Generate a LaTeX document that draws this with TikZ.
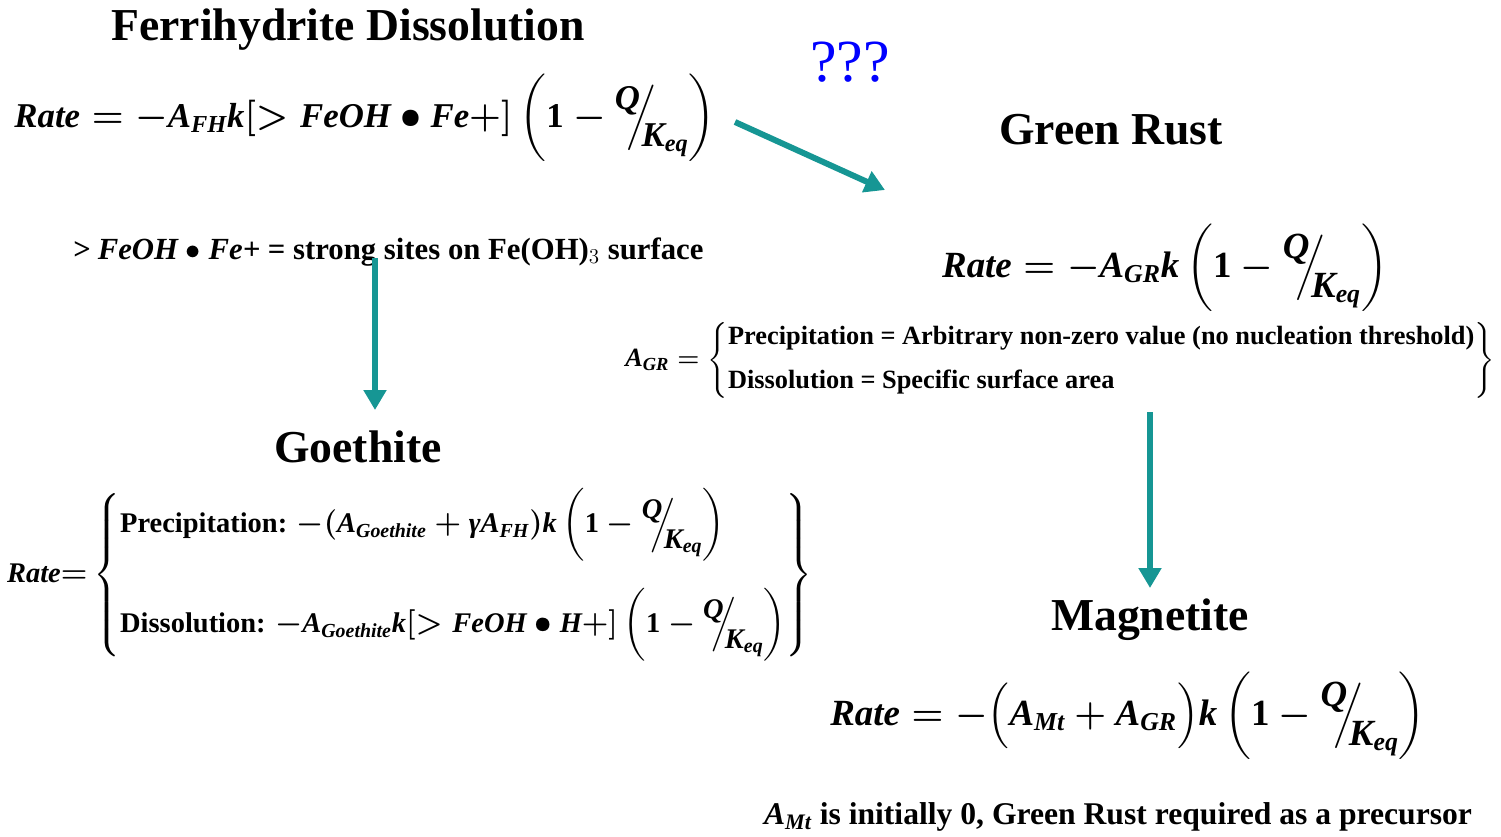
\documentclass[tikz,border=0pt]{standalone}
\usepackage{amsmath}
\usepackage{fontspec}
\setmainfont{Liberation Serif}
\usetikzlibrary{arrows.meta}

\definecolor{flowteal}{RGB}{22,150,148}
\newcommand{\mi}[1]{\text{\bfseries\itshape #1}}
\newcommand{\qoverk}{\raisebox{1.1ex}{\bfseries\itshape Q}\!\!\Big/\!\!\raisebox{-1.2ex}{$\mi{K}_{\mi{eq}}$}}
\newcommand{\one}{\text{\bfseries 1}}

\begin{document}
\begin{tikzpicture}[x=0.02cm, y=-0.02cm, font=\bfseries,
  heading/.style={font=\fontsize{26}{30}\selectfont\bfseries},
  eqn/.style={font=\fontsize{21}{25}\selectfont\bfseries\boldmath},
  flow/.style={draw=flowteal, line width=3.4pt, -{Triangle[length=4mm, width=4.4mm]}}]
\useasboundingbox (0,0) rectangle (1501,836);

% ferrihydrite
\node[heading] (ferri) at (348,30) {Ferrihydrite Dissolution};
\node[eqn, font=\fontsize{19.8}{23}\selectfont\bfseries\boldmath] (fhrate) at (365,118)
  {$\mi{Rate} = -\mi{A}_{\mi{FH}}\mi{k}[>\mi{FeOH}\bullet\mi{Fe}{+}]\left(\one-\qoverk\right)$};
\node[font=\fontsize{17.5}{20}\selectfont\bfseries] (sites) at (388,252)
  {\textit{> FeOH $\bullet$ Fe+} = strong sites on Fe(OH)$_3$ surface};

% green rust
\node[text=blue, font=\fontsize{34}{38}\selectfont] (qqq) at (850,62) {???};
\node[heading] (gr) at (1111,130) {Green Rust};
\node[eqn] (grrate) at (1165,268)
  {$\mi{Rate} = -\mi{A}_{\mi{GR}}\mi{k}\left(\one-\qoverk\right)$};
\node[font=\fontsize{15}{18}\selectfont\bfseries\boldmath] (agr) at (1060,360)
  {$\mi{A}_{\mi{GR}} = \left\{\begin{tabular}{@{}l@{}}Precipitation = Arbitrary non-zero value (no nucleation threshold)\\[7pt]
   Dissolution = Specific surface area\end{tabular}\right\}$};

% goethite
\node[heading] (goe) at (358,447) {Goethite};
\node[font=\fontsize{16.2}{19}\selectfont\bfseries\boldmath] (gtrate) at (410,575)
  {$\mi{Rate} {=} \left\{\begin{array}{@{}l@{}}
   \text{Precipitation: }{-}(\mi{A}_{\mi{Goethite}} + \mi{γ}\mi{A}_{\mi{FH}})\mi{k}\left(\one-\qoverk\right)\\[26pt]
   \text{Dissolution: }{-}\mi{A}_{\mi{Goethite}}\mi{k}[>\mi{FeOH}\bullet\mi{H}{+}]\left(\one-\qoverk\right)
   \end{array}\right\}$};

% magnetite
\node[heading] (mag) at (1150,620) {Magnetite};
\node[eqn] (mtrate) at (1128,716)
  {$\mi{Rate} = -\Big(\mi{A}_{\mi{Mt}} + \mi{A}_{\mi{GR}}\Big)\mi{k}\left(\one-\qoverk\right)$};
\node[font=\fontsize{18}{21}\selectfont\bfseries\boldmath] (mtnote) at (1118,817)
  {$\mi{A}_{\mi{Mt}}$ is initially 0, Green Rust required as a precursor};

% arrows
\coordinate (fhout) at (735,122);
\coordinate (grin) at (885,190);
\coordinate (sitesout) at (375,258);
\coordinate (goein) at (375,410);
\coordinate (agrout) at (1150,412);
\coordinate (magin) at (1150,588);
\draw[flow] (fhout) -- (grin);
\draw[flow] (sitesout) -- (goein);
\draw[flow] (agrout) -- (magin);
\end{tikzpicture}
\end{document}
